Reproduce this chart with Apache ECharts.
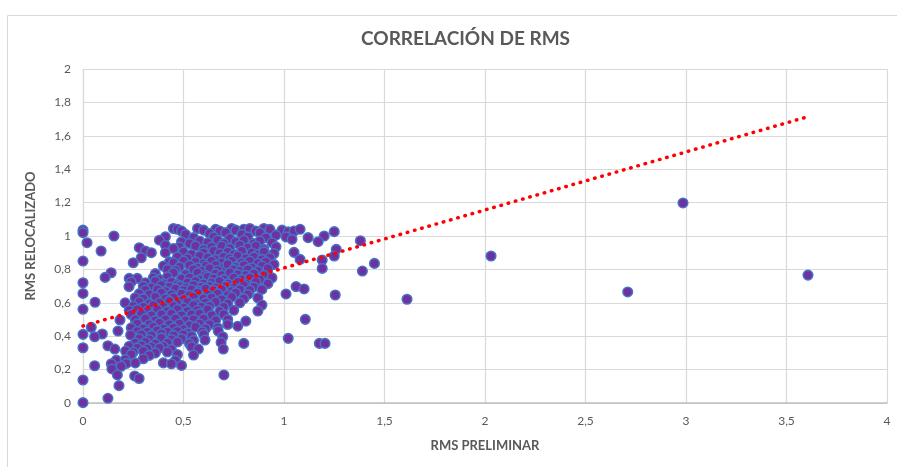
<!DOCTYPE html>
<html>
<head>
<meta charset="utf-8">
<title>Correlación de RMS</title>
<script src="https://cdn.jsdelivr.net/npm/echarts@6/dist/echarts.min.js"></script>
<style>
  html, body { margin: 0; padding: 0; background: #fff; }
  #chart { width: 897px; height: 467px; }
</style>
</head>
<body>
<div id="chart"></div>
<script>
// RMS preliminar (x) vs RMS relocalizado (y)
const puntosAltos = [
  [0, 1.035], [0, 1.02], [0.45, 1.045], [0.47, 1.04], [0.49, 1.03], [0.57, 1.045], [0.6, 1.035],
  [0.66, 1.04], [0.68, 1.03], [0.74, 1.045], [0.76, 1.035], [0.8, 1.04], [0.83, 1.045], [0.86, 1.03],
  [0.9, 1.045], [0.93, 1.04], [0.99, 1.035], [1.02, 1.025], [1.05, 1.03], [1.08, 1.04], [1.25, 1.026],
  [0.51, 1.01], [0.63, 1.015], [0.71, 1.02], [0.79, 1.01], [0.88, 1.02], [0.96, 1.005],
  [0.154, 1.0], [0.41, 0.995], [0.55, 0.99], [0.65, 0.995], [0.73, 0.985], [0.82, 0.995], [0.91, 0.99],
  [1.01, 0.995], [1.04, 0.98], [1.12, 0.99], [1.2, 1.0],
  [0.02, 0.96], [0.38, 0.975], [0.49, 0.965], [0.53, 0.955], [0.58, 0.97], [0.62, 0.96], [0.67, 0.975],
  [0.7, 0.955], [0.76, 0.965], [0.8, 0.975], [0.85, 0.955], [0.88, 0.97], [0.94, 0.96], [1.17, 0.966],
  [1.38, 0.972], [0.48, 0.935], [0.28, 0.93], [0.41, 0.945], [0.45, 0.925], [0.56, 0.94], [0.6, 0.92],
  [0.64, 0.935], [0.69, 0.94], [0.73, 0.925], [0.78, 0.945], [0.82, 0.93], [0.86, 0.94], [0.9, 0.92],
  [0.96, 0.935], [1.26, 0.92]
]
const puntosMedios = [
  [0.09, 0.91], [0.31, 0.91], [0.34, 0.9], [0.41, 0.9], [0.5, 0.905], [0.54, 0.89], [0.6, 0.9],
  [0.65, 0.91], [0.68, 0.895], [0.72, 0.905], [0.75, 0.89], [0.79, 0.91], [0.84, 0.9], [0.87, 0.89],
  [0.9, 0.905], [0.95, 0.895], [1.05, 0.902], [0.29, 0.87], [0.47, 0.875], [0.52, 0.865], [0.58, 0.88],
  [0.62, 0.87], [0.66, 0.86], [0.7, 0.875], [0.73, 0.865], [0.77, 0.88], [0.81, 0.865], [0.85, 0.875],
  [0.89, 0.86], [0.93, 0.87], [1.08, 0.86], [1.25, 0.88], [0, 0.85], [0.43, 0.845], [0.45, 0.84],
  [0.5, 0.85], [0.56, 0.845], [0.6, 0.835], [0.64, 0.85], [0.69, 0.84], [0.74, 0.85], [0.79, 0.84],
  [0.83, 0.85], [0.87, 0.835], [0.91, 0.845], [1.19, 0.856], [0.25, 0.84], [0.4, 0.82], [0.48, 0.815],
  [0.53, 0.825], [0.57, 0.81], [0.61, 0.82], [0.66, 0.825], [0.7, 0.81], [0.72, 0.83], [0.76, 0.815],
  [0.8, 0.825], [0.84, 0.81], [0.89, 0.82], [0.95, 0.83], [1.45, 0.836], [0.42, 0.8], [0.46, 0.795],
  [0.55, 0.8], [0.59, 0.79], [0.63, 0.805], [0.67, 0.795], [0.75, 0.8], [0.78, 0.79], [0.82, 0.8],
  [0.87, 0.79], [0.92, 0.805], [1.19, 0.806], [1.39, 0.79], [0.14, 0.78], [0.36, 0.775], [0.45, 0.78],
  [0.51, 0.77], [0.57, 0.78], [0.61, 0.765], [0.66, 0.775], [0.69, 0.765], [0.73, 0.78], [0.77, 0.77],
  [0.81, 0.765], [0.85, 0.775], [0.9, 0.765], [0.11, 0.752], [0.23, 0.746], [0.27, 0.746], [0.35, 0.75],
  [0.38, 0.74], [0.42, 0.755], [0.49, 0.745], [0.53, 0.75], [0.58, 0.74], [0.62, 0.755], [0.65, 0.745],
  [0.7, 0.74], [0.75, 0.75], [0.79, 0.74], [0.83, 0.75], [0.88, 0.74], [0.94, 0.75], [0, 0.72],
  [0.24, 0.725], [0.31, 0.72], [0.36, 0.73], [0.4, 0.715], [0.44, 0.725], [0.47, 0.71], [0.52, 0.72],
  [0.56, 0.73], [0.6, 0.715], [0.64, 0.72], [0.68, 0.73], [0.72, 0.715], [0.77, 0.725], [0.81, 0.715],
  [0.86, 0.725], [0.92, 0.715], [0.229, 0.697], [0.3, 0.7], [0.34, 0.69], [0.39, 0.705], [0.43, 0.695],
  [0.48, 0.7], [0.51, 0.69], [0.55, 0.705], [0.59, 0.695], [0.63, 0.7], [0.66, 0.69], [0.71, 0.7],
  [0.75, 0.69], [0.8, 0.705], [0.85, 0.695], [1.06, 0.697], [0.31, 0.677], [0.37, 0.68], [0.41, 0.67],
  [0.46, 0.685], [0.5, 0.675], [0.54, 0.68], [0.58, 0.67], [0.61, 0.685], [0.65, 0.675], [0.69, 0.68],
  [0.74, 0.67], [0.78, 0.68], [0.83, 0.675], [0.89, 0.68], [1.1, 0.683]
]
const puntosBajos = [
  [0, 0.656], [0.28, 0.655], [0.33, 0.65], [0.39, 0.66], [0.44, 0.65], [0.49, 0.655], [0.53, 0.645],
  [0.57, 0.66], [0.62, 0.65], [0.67, 0.655], [0.72, 0.645], [0.76, 0.66], [0.82, 0.65], [1.01, 0.653],
  [1.255, 0.647], [0.26, 0.63], [0.3, 0.625], [0.36, 0.635], [0.41, 0.625], [0.45, 0.63], [0.5, 0.62],
  [0.55, 0.635], [0.6, 0.625], [0.64, 0.63], [0.69, 0.62], [0.74, 0.635], [0.8, 0.625], [0.87, 0.63],
  [0.06, 0.603], [0.21, 0.6], [0.28, 0.605], [0.33, 0.595], [0.38, 0.6], [0.43, 0.61], [0.47, 0.595],
  [0.52, 0.605], [0.56, 0.595], [0.61, 0.6], [0.66, 0.605], [0.72, 0.595], [0.78, 0.6], [0.25, 0.58],
  [0.3, 0.575], [0.35, 0.585], [0.4, 0.575], [0.45, 0.58], [0.5, 0.57], [0.55, 0.585], [0.59, 0.575],
  [0.63, 0.58], [0.7, 0.575], [0.89, 0.587], [0, 0.561], [0.23, 0.555], [0.27, 0.56], [0.32, 0.55],
  [0.37, 0.56], [0.42, 0.55], [0.47, 0.56], [0.52, 0.55], [0.57, 0.555], [0.62, 0.56], [0.68, 0.55],
  [0.75, 0.555], [0.87, 0.551], [0.24, 0.53], [0.29, 0.535], [0.34, 0.525], [0.39, 0.53], [0.44, 0.535],
  [0.49, 0.525], [0.54, 0.53], [0.58, 0.535], [0.64, 0.525], [0.7, 0.53], [0.184, 0.497], [0.26, 0.5],
  [0.31, 0.505], [0.36, 0.495], [0.41, 0.5], [0.46, 0.505], [0.51, 0.495], [0.55, 0.5], [0.6, 0.505],
  [0.66, 0.495], [0.72, 0.5], [0.81, 0.49], [1.106, 0.501], [0.27, 0.475], [0.33, 0.47], [0.38, 0.48],
  [0.43, 0.47], [0.48, 0.475], [0.53, 0.465], [0.58, 0.475], [0.63, 0.47], [0.72, 0.47], [0.77, 0.46],
  [0.041, 0.453], [0.24, 0.45], [0.3, 0.445], [0.35, 0.455], [0.4, 0.445], [0.45, 0.45], [0.5, 0.44],
  [0.56, 0.455], [0.61, 0.445], [0.67, 0.45], [0.174, 0.431], [0.27, 0.43], [0.32, 0.425], [0.37, 0.435],
  [0.42, 0.425], [0.47, 0.43], [0.52, 0.42], [0.594, 0.427], [0.673, 0.431], [0, 0.411], [0.096, 0.413],
  [0.237, 0.407], [0.29, 0.41], [0.34, 0.405], [0.39, 0.415], [0.45, 0.405], [0.5, 0.41], [0.54, 0.4],
  [0.6, 0.41], [0.058, 0.397], [0.695, 0.397], [0.28, 0.385], [0.33, 0.38], [0.39, 0.39], [0.44, 0.38],
  [0.49, 0.385], [0.55, 0.375], [0.607, 0.377], [1.021, 0.387], [0.26, 0.36], [0.31, 0.365],
  [0.36, 0.355], [0.42, 0.36], [0.47, 0.365], [0.53, 0.355], [0.687, 0.363], [0.8, 0.357], [1.176, 0.357],
  [1.204, 0.357], [0.124, 0.343], [0.23, 0.34], [0.29, 0.345], [0.34, 0.335], [0.4, 0.34], [0.54, 0.337],
  [0, 0.331], [0.158, 0.323], [0.27, 0.33], [0.32, 0.325], [0.38, 0.33], [0.44, 0.32], [0.574, 0.323],
  [0.698, 0.323], [0.212, 0.311], [0.25, 0.305], [0.3, 0.31], [0.36, 0.3], [0.42, 0.305], [0.24, 0.29],
  [0.33, 0.285], [0.47, 0.29], [0.55, 0.287], [0.166, 0.257], [0.21, 0.26], [0.3, 0.265], [0.46, 0.255],
  [0.216, 0.237], [0.26, 0.24], [0.4, 0.24], [0.44, 0.235], [0.058, 0.223], [0.141, 0.235],
  [0.144, 0.204], [0.19, 0.22], [0.49, 0.225], [0.171, 0.168], [0.257, 0.162], [0.279, 0.147],
  [0.701, 0.168], [0, 0.138], [0.179, 0.104], [0.124, 0.028], [0, 0.002]
]
const puntosAtipicos = [[1.612, 0.621], [2.03, 0.88], [2.71, 0.665], [2.985, 1.198], [3.607, 0.766]]

// linear trend line (Excel style), ends at x = 0 and x = 3.6
const tendencia = [[0, 0.461], [3.6, 1.712]]

const fuente = 'Lato, "Noto Sans", sans-serif'
const gris = '#595959'
const fmt = function (v) { return String(v).replace('.', ',') }

const puntos = puntosAltos.concat(puntosMedios, puntosBajos, puntosAtipicos)

const chart = echarts.init(document.getElementById('chart'))
chart.setOption({
  animation: false,
  textStyle: { fontFamily: fuente },
  graphic: [{
    type: 'rect',
    shape: { x: 7.5, y: 15.5, width: 900, height: 460 },
    style: { fill: 'none', stroke: '#d9d9d9', lineWidth: 1 },
    silent: true
  }],
  title: {
    text: 'CORRELACIÓN DE RMS',
    left: 356,
    top: 24,
    textStyle: { fontFamily: fuente, fontSize: 19, fontWeight: 'bold', color: gris }
  },
  grid: { left: 83, right: 10, top: 69, bottom: 64 },
  xAxis: {
    type: 'value',
    min: 0,
    max: 4,
    interval: 0.5,
    name: 'RMS PRELIMINAR',
    nameLocation: 'middle',
    nameGap: 36,
    nameTextStyle: { fontFamily: fuente, fontSize: 13, fontWeight: 'bold', color: gris },
    axisLine: { show: true, lineStyle: { color: '#bfbfbf', width: 1.5 } },
    axisTick: { show: false },
    axisLabel: { color: gris, fontSize: 12, margin: 12, formatter: fmt },
    splitLine: { show: true, lineStyle: { color: '#d9d9d9', width: 1.2 } }
  },
  yAxis: {
    type: 'value',
    min: 0,
    max: 2,
    interval: 0.2,
    name: 'RMS RELOCALIZADO',
    nameLocation: 'middle',
    nameGap: 46,
    nameTextStyle: { fontFamily: fuente, fontSize: 13, fontWeight: 'bold', color: gris },
    axisLine: { show: true, lineStyle: { color: '#d9d9d9', width: 1.2 } },
    axisTick: { show: false },
    axisLabel: { color: gris, fontSize: 12, margin: 12, formatter: fmt },
    splitLine: { show: true, lineStyle: { color: '#d9d9d9', width: 1.2 } }
  },
  series: [{
    type: 'scatter',
    data: puntos,
    symbolSize: 9.5,
    itemStyle: { color: '#7030a0', borderColor: '#4472c4', borderWidth: 1.6, opacity: 1 },
    z: 2
  }, {
    type: 'line',
    data: tendencia,
    symbol: 'none',
    lineStyle: { color: '#ff0000', width: 3.5, type: [0.5, 7], cap: 'round' },
    z: 3
  }]
})
</script>
</body>
</html>
